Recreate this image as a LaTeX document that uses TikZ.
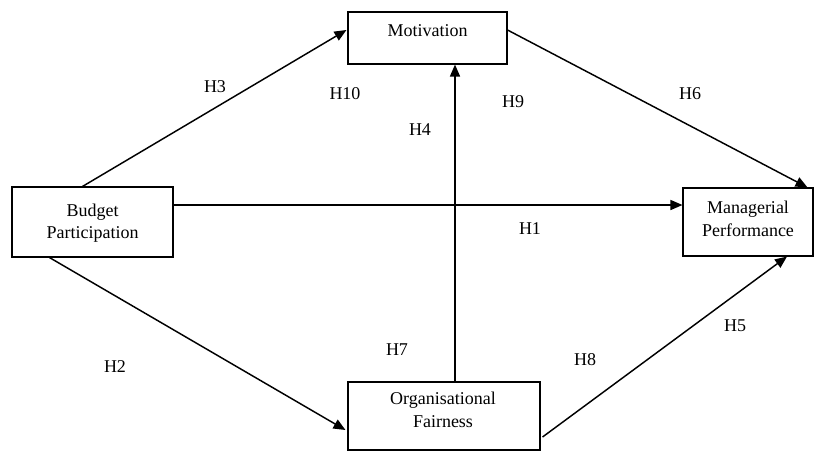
\documentclass[tikz,border=0pt]{standalone}
\usepackage{fontspec}
\setmainfont{Liberation Serif}
\usetikzlibrary{arrows.meta,calc}
\begin{document}
\begin{tikzpicture}[x=0.75pt,y=-0.75pt,
  box/.style={draw=black,line width=0.8pt,rectangle,inner sep=0pt},
  txt/.style={font=\fontsize{13.5}{17}\selectfont,align=center,inner sep=0pt},
  lab/.style={font=\fontsize{13.5}{17}\selectfont,inner sep=0pt},
  arr/.style={line width=1.1pt,-{Triangle[length=9pt,width=7.5pt]}},
  ln/.style={line width=1.1pt}]
\useasboundingbox (0,0) rectangle (815,451);
\node[box,minimum width=120.75pt,minimum height=52.5pt] (bp) at (92.5,222) {};
\node[box,minimum width=119.25pt,minimum height=39pt] (mot) at (427.5,38) {};
\node[box,minimum width=97.5pt,minimum height=51pt] (mp) at (748,222) {};
\node[box,minimum width=144pt,minimum height=51pt] (of) at (444,416) {};
\node[txt] (tbp) at (92.5,223) {Budget\\Participation};
\node[txt] (tmot) at (427.5,31) {Motivation};
\node[txt] (tmp) at (748,219) {Managerial\\Performance};
\node[txt] (tof) at (443,410) {Organisational\\Fairness};
\draw[arr] ($(bp.north west)+(71,0)$) -- ($(mot.west)+(-1,-8)$);
\draw[arr] ($(bp.east)+(0,-17)$) -- ($(mp.west)+(0,-17)$);
\draw[arr] ($(bp.south west)+(38,0)$) -- ($(of.west)+(-2,14)$);
\draw[arr] ($(mot.east)+(0,-8)$) -- ($(mp.north east)+(-6,0)$);
\draw[arr] ($(of.north)+(11,0)$) -- ($(mot.south)+(27.5,0)$);
\draw[arr] ($(of.east)+(2,21)$) -- ($(mp.south)+(39,0)$);
\node[lab] (h3) at (215,87) {H3};
\node[lab] (h10) at (345,94) {H10};
\node[lab] (h4) at (420,130) {H4};
\node[lab] (h9) at (513,102) {H9};
\node[lab] (h6) at (690,94) {H6};
\node[lab] (h1) at (530,229) {H1};
\node[lab] (h2) at (115,367) {H2};
\node[lab] (h7) at (397,350) {H7};
\node[lab] (h8) at (585,360) {H8};
\node[lab] (h5) at (735,326) {H5};
\end{tikzpicture}
\end{document}
